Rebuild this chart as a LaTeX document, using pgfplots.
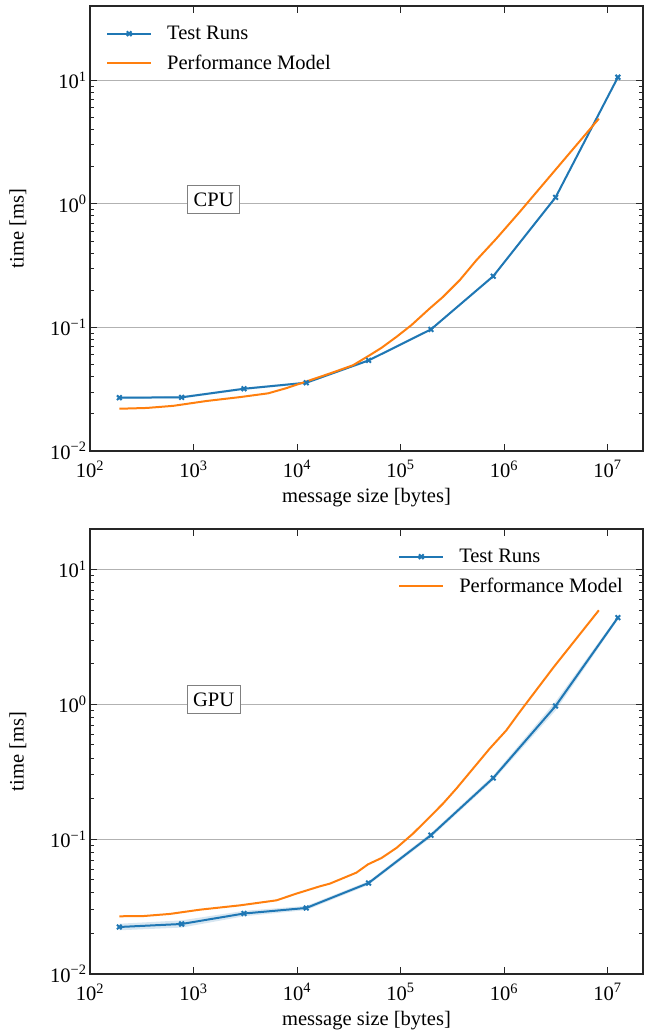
\documentclass[border=0pt]{standalone}
\usepackage{fontspec}
\setmainfont{Liberation Serif}
\usepackage{pgfplots}
\pgfplotsset{compat=1.18}
\definecolor{tabblue}{HTML}{1F77B4}
\definecolor{taborange}{HTML}{FF7F0E}
\newcommand{\myfs}{\fontsize{20.6}{24}\selectfont}
\pgfplotsset{
  legend image code/.code={\draw[mark repeat=2,mark phase=2,#1] plot coordinates {(0bp,0bp) (22bp,0bp) (44bp,0bp)};},
  scale only axis, width=553bp, height=445bp,
  xmin=100, xmax=2.2e7,
  xtick={1e2,1e3,1e4,1e5,1e6,1e7},
  xticklabels={10\textsuperscript{2},10\textsuperscript{3},10\textsuperscript{4},10\textsuperscript{5},10\textsuperscript{6},10\textsuperscript{7}},
  ytick={1e-2,1e-1,1,1e1},
  yticklabels={10\textsuperscript{−2},10\textsuperscript{−1},10\textsuperscript{0},10\textsuperscript{1}},
  xminorticks=false,
  ymajorgrids,
  major grid style={color=black!30, line width=0.9bp},
  tick align=inside,
  major tick length=7bp, minor tick length=4bp,
  axis line style={line width=1.2bp, black!85},
  every tick/.style={line width=1bp, black!85},
  tick label style={font=\myfs},
  xticklabel style={yshift=-6bp},
  every axis x label/.style={at={(axis description cs:0.5,-0.1056)}, anchor=center, font=\myfs},
  every axis y label/.style={at={(axis description cs:-0.1302,0.5)}, anchor=center, rotate=90, font=\myfs},
  legend cell align=left,
  legend style={draw=none, fill=none, font=\myfs, row sep=10bp, column sep=8bp, inner sep=0pt,
      nodes={inner xsep=7bp, inner ysep=2bp}},
}
\begin{document}
\begin{tikzpicture}
\useasboundingbox (0,0) rectangle (654bp,1034bp);
% ---------------- CPU ----------------
\begin{loglogaxis}[at={(90bp,583bp)}, anchor=south west,
  ymin=1e-2, ymax=40,
  xlabel={message size [bytes]}, ylabel={time [ms]},
  legend style={at={(axis description cs:0,1)}, anchor=north west, xshift=16bp, yshift=-18bp}]
\addplot[fill=tabblue, fill opacity=0.18, draw=none, forget plot] coordinates {(192,0.0276)(768,0.0278)(3072,0.0326)(12288,0.0364)(49152,0.0552)(196608,0.0985)(786432,0.266)(3145728,1.16)(12582912,10.9)
 (12582912,10.3)(3145728,1.10)(786432,0.254)(196608,0.0943)(49152,0.0530)(12288,0.0350)(3072,0.0312)(768,0.0266)(192,0.0264)} -- cycle;
\addplot[color=tabblue, line width=2bp, mark=x, mark size=3.3bp, mark options={line width=2bp}] coordinates {(192,0.0270)(768,0.0272)(3072,0.0319)(12288,0.0357)(49152,0.0541)(196608,0.0964)(786432,0.260)(3145728,1.13)(12582912,10.6)};
\addlegendentry{Test Runs}
\addplot[color=taborange, line width=2bp, no marks] coordinates {(192,0.02198)(352,0.0223)(637,0.0232)(1337,0.0254)(2805,0.0273)(5260,0.0293)(7925,0.0323)(12360,0.0366)(20750,0.0424)(34830,0.0495)(50470,0.0597)(65460,0.0684)(91300,0.0839)(127300,0.1044)(191300,0.1425)(257300,0.1768)(372500,0.241)(540300,0.350)(843500,0.524)(1416000,0.861)(8240000,4.90)};
\addlegendentry{Performance Model}
\node[draw=black!50, line width=1bp, fill=white, inner xsep=6bp, inner ysep=7bp, font=\myfs] at (axis cs:1567,1.08) {CPU};
\end{loglogaxis}
% ---------------- GPU ----------------
\begin{loglogaxis}[at={(90bp,60bp)}, anchor=south west,
  ymin=1e-2, ymax=20,
  xlabel={message size [bytes]}, ylabel={time [ms]},
  legend style={at={(axis description cs:1,1)}, anchor=north east, xshift=-13bp, yshift=-18bp}]
\addplot[fill=tabblue, fill opacity=0.18, draw=none, forget plot] coordinates {(192,0.0236)(768,0.0250)(3072,0.0294)(12288,0.0320)(49152,0.0488)(196608,0.111)(786432,0.297)(3145728,1.05)(12582912,4.55)
 (12582912,4.25)(3145728,0.90)(786432,0.273)(196608,0.103)(49152,0.0458)(12288,0.0298)(3072,0.0268)(768,0.0221)(192,0.0211)} -- cycle;
\addplot[color=tabblue, line width=2bp, mark=x, mark size=3.3bp, mark options={line width=2bp}] coordinates {(192,0.02232)(768,0.0235)(3072,0.0281)(12288,0.0309)(49152,0.0473)(196608,0.107)(786432,0.2845)(3145728,0.973)(12582912,4.40)};
\addlegendentry{Test Runs}
\addplot[color=taborange, line width=2bp, no marks] coordinates {(192,0.0268)(327,0.0269)(591,0.0279)(1153,0.0300)(2805,0.0323)(6339,0.0352)(9886,0.0395)(16600,0.0447)(20750,0.0468)(37500,0.0565)(48530,0.0651)(65460,0.0725)(91300,0.0861)(132000,0.110)(191300,0.146)(257300,0.1837)(346400,0.2374)(501600,0.334)(726800,0.470)(1052000,0.642)(1416000,0.878)(3000000,1.88)(8240000,4.99)};
\addlegendentry{Performance Model}
\node[draw=black!50, line width=1bp, fill=white, inner xsep=6bp, inner ysep=7bp, font=\myfs] at (axis cs:1567,1.085) {GPU};
\end{loglogaxis}
\end{tikzpicture}
\end{document}
